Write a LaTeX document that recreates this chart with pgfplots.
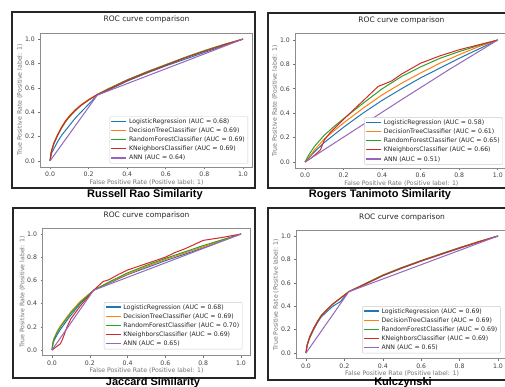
\documentclass[border=0pt]{standalone}
\usepackage{pgfplots}
\pgfplotsset{compat=1.18}
\usepackage{fontspec}
\setmainfont{DejaVu Sans}
\newfontfamily\capfont{Liberation Sans}
\definecolor{tabblue}{HTML}{1F77B4}
\definecolor{taborange}{HTML}{FF7F0E}
\definecolor{tabgreen}{HTML}{2CA02C}
\definecolor{tabred}{HTML}{D62728}
\definecolor{tabpurple}{HTML}{9467BD}
\pgfplotsset{
 rocstyle/.style={
  scale only axis,
  xmin=-0.05,xmax=1.05,ymin=-0.05,ymax=1.05,
  xtick={0,0.2,0.4,0.6,0.8,1}, ytick={0,0.2,0.4,0.6,0.8,1},
  /pgf/number format/.cd, fixed, fixed zerofill, precision=1, assume math mode=true, /pgfplots/.cd,
  tick pos=left, tick align=outside, major tick length=2pt,
  tick style={black!55, line width=0.6pt},
  axis line style={black!45, line width=0.8pt},
  ticklabel style={font=\fontsize{6.2}{7}\selectfont, text=black!75},
  xticklabel style={yshift=0.5pt},
  label style={font=\fontsize{6.2}{7}\selectfont, text=black!55},
  every axis title shift=0pt,
  title style={font=\fontsize{7.5}{9}\selectfont, text=black!85, at={(axis description cs:0.5,1.1)}, anchor=center},
  xlabel style={at={(axis description cs:0.5,-0.115)}, anchor=center},
  ylabel style={at={(axis description cs:-0.097,0.5)}, anchor=center},
  title={ROC curve comparison},
  xlabel={False Positive Rate (Positive label: 1)},
  ylabel={True Positive Rate (Positive label: 1)},
  legend cell align=left,
  legend image code/.code={\draw[#1, line width=1.2pt] (0pt,0.3pt) -- (15pt,0.3pt);},
  legend style={at={(1,0)}, anchor=south east, xshift=-4.5pt, yshift=3.5pt,
    draw=black!20, rounded corners=1pt, fill=white,
    font=\fontsize{6.2}{7}\selectfont, inner sep=1pt, row sep=1.2pt,
    nodes={inner xsep=2pt, inner ysep=1pt, text height=4.7pt, text depth=1.3pt, text=black!85}},
  every axis plot/.append style={line width=1pt, no markers},
 }
}
\begin{document}
\begin{tikzpicture}
\clip (0pt,0pt) rectangle (505pt,-387pt);
\fill[white] (0pt,0pt) rectangle (505pt,-387pt);
% outer frames
\draw[line width=1.3pt, black!85] (12pt,-12pt) rectangle (255pt,-188pt);
\draw[line width=1.3pt, black!85] (268pt,-13pt) rectangle (520pt,-188pt);
\draw[line width=1.3pt, black!85] (13pt,-208pt) rectangle (255pt,-378pt);
\draw[line width=1.3pt, black!85] (268pt,-208pt) rectangle (520pt,-380pt);

% ---------- Russell Rao ----------
\begin{axis}[rocstyle, at={(40.4pt,-167pt)}, anchor=south west, width=212.2pt, height=134pt]
\addplot[tabblue] coordinates {(0,0)(0.005,0.04)(0.01,0.07)(0.02,0.10)(0.04,0.16)(0.06,0.21)(0.08,0.25)(0.1,0.29)(0.13,0.35)(0.16,0.40)(0.2,0.465)(0.245,0.54)(0.3,0.58)(0.4,0.655)(0.5,0.72)(0.6,0.78)(0.7,0.835)(0.8,0.89)(0.9,0.945)(1,1)};
\addlegendentry{LogisticRegression (AUC = 0.68)}
\addplot[taborange] coordinates {(0,0)(0.005,0.07)(0.01,0.10)(0.02,0.15)(0.04,0.22)(0.06,0.28)(0.08,0.33)(0.1,0.37)(0.13,0.42)(0.16,0.46)(0.2,0.505)(0.245,0.545)(0.3,0.59)(0.4,0.665)(0.5,0.73)(0.6,0.79)(0.7,0.85)(0.8,0.905)(0.9,0.955)(1,1)};
\addlegendentry{DecisionTreeClassifier (AUC = 0.69)}
\addplot[tabgreen] coordinates {(0,0)(0.005,0.06)(0.01,0.09)(0.02,0.14)(0.04,0.21)(0.06,0.27)(0.08,0.32)(0.1,0.36)(0.13,0.41)(0.16,0.455)(0.2,0.50)(0.245,0.545)(0.3,0.59)(0.4,0.665)(0.5,0.73)(0.6,0.79)(0.7,0.85)(0.8,0.905)(0.9,0.955)(1,1)};
\addlegendentry{RandomForestClassifier (AUC = 0.69)}
\addplot[tabred] coordinates {(0,0)(0.005,0.065)(0.01,0.095)(0.02,0.145)(0.04,0.215)(0.06,0.275)(0.08,0.325)(0.1,0.365)(0.13,0.415)(0.16,0.455)(0.2,0.5)(0.245,0.545)(0.3,0.585)(0.4,0.66)(0.5,0.725)(0.6,0.785)(0.7,0.845)(0.8,0.9)(0.9,0.952)(1,1)};
\addlegendentry{KNeighborsClassifier (AUC = 0.69)}
\addplot[tabpurple] coordinates {(0,0)(0.245,0.54)(1,1)};
\addlegendentry{ANN (AUC = 0.64)}
\end{axis}

% ---------- Rogers Tanimoto ----------
\begin{axis}[rocstyle, at={(295.4pt,-168.1pt)}, anchor=south west, width=212pt, height=134.2pt]
\addplot[tabblue] coordinates {(0,0)(0.05,0.085)(0.1,0.16)(0.2,0.285)(0.3,0.40)(0.4,0.505)(0.5,0.60)(0.6,0.69)(0.7,0.77)(0.8,0.85)(0.9,0.925)(1,1)};
\addlegendentry{LogisticRegression (AUC = 0.58)}
\addplot[taborange] coordinates {(0,0)(0.05,0.10)(0.1,0.19)(0.2,0.32)(0.3,0.44)(0.4,0.55)(0.5,0.645)(0.6,0.73)(0.7,0.81)(0.8,0.88)(0.9,0.945)(1,1)};
\addlegendentry{DecisionTreeClassifier (AUC = 0.61)}
\addplot[tabgreen] coordinates {(0,0)(0.02,0.06)(0.05,0.13)(0.1,0.22)(0.15,0.29)(0.2,0.355)(0.3,0.48)(0.4,0.60)(0.5,0.70)(0.6,0.78)(0.7,0.85)(0.8,0.905)(0.9,0.955)(1,1)};
\addlegendentry{RandomForestClassifier (AUC = 0.65)}
\addplot[tabred] coordinates {(0,0)(0.03,0.03)(0.06,0.07)(0.08,0.10)(0.1,0.18)(0.13,0.24)(0.2,0.35)(0.3,0.50)(0.38,0.62)(0.42,0.645)(0.45,0.665)(0.5,0.72)(0.6,0.81)(0.7,0.87)(0.8,0.92)(0.9,0.96)(1,1)};
\addlegendentry{KNeighborsClassifier (AUC = 0.66)}
\addplot[tabpurple] coordinates {(0,0)(0.25,0.255)(0.5,0.51)(0.75,0.76)(1,1)};
\addlegendentry{ANN (AUC = 0.51)}
\end{axis}

% ---------- Jaccard ----------
\begin{axis}[rocstyle, at={(42.55pt,-355.8pt)}, anchor=south west, width=207.9pt, height=127.6pt, legend style={xshift=-3.5pt, yshift=3pt}]
\addplot[tabblue] coordinates {(0,0)(0.005,0.05)(0.01,0.08)(0.03,0.14)(0.05,0.19)(0.09,0.28)(0.1,0.30)(0.15,0.40)(0.22,0.515)(0.3,0.575)(0.4,0.65)(0.5,0.71)(0.6,0.77)(0.7,0.825)(0.8,0.88)(0.9,0.94)(1,1)};
\addlegendentry{LogisticRegression (AUC = 0.68)}
\addplot[taborange] coordinates {(0,0)(0.005,0.07)(0.01,0.10)(0.03,0.17)(0.05,0.22)(0.1,0.33)(0.15,0.42)(0.22,0.515)(0.3,0.58)(0.4,0.655)(0.5,0.72)(0.6,0.78)(0.7,0.835)(0.8,0.89)(0.9,0.945)(1,1)};
\addlegendentry{DecisionTreeClassifier (AUC = 0.69)}
\addplot[tabgreen] coordinates {(0,0)(0.005,0.06)(0.01,0.09)(0.03,0.16)(0.05,0.21)(0.1,0.32)(0.15,0.41)(0.22,0.515)(0.3,0.585)(0.4,0.665)(0.5,0.73)(0.6,0.79)(0.7,0.845)(0.8,0.9)(0.9,0.95)(1,1)};
\addlegendentry{RandomForestClassifier (AUC = 0.70)}
\addplot[tabred] coordinates {(0,0)(0.045,0.055)(0.055,0.09)(0.08,0.20)(0.1,0.27)(0.15,0.38)(0.22,0.515)(0.27,0.59)(0.3,0.605)(0.35,0.65)(0.4,0.69)(0.5,0.745)(0.6,0.80)(0.65,0.84)(0.7,0.87)(0.8,0.945)(0.9,0.97)(1,1)};
\addlegendentry{KNeighborsClassifier (AUC = 0.69)}
\addplot[tabpurple] coordinates {(0,0)(0.22,0.515)(1,1)};
\addlegendentry{ANN (AUC = 0.65)}
\end{axis}

% ---------- Kulczynski ----------
\begin{axis}[rocstyle, at={(296.4pt,-358.85pt)}, anchor=south west, width=211.2pt, height=128.7pt, legend style={xshift=-2.5pt, yshift=2pt}]
\addplot[tabblue] coordinates {(0,0)(0.005,0.06)(0.01,0.09)(0.02,0.13)(0.04,0.20)(0.06,0.26)(0.08,0.31)(0.1,0.34)(0.14,0.40)(0.18,0.44)(0.223,0.524)(0.3,0.58)(0.4,0.66)(0.5,0.725)(0.6,0.785)(0.7,0.84)(0.8,0.895)(0.9,0.948)(1,1)};
\addlegendentry{LogisticRegression (AUC = 0.69)}
\addplot[taborange] coordinates {(0,0)(0.005,0.06)(0.01,0.09)(0.02,0.14)(0.04,0.21)(0.06,0.27)(0.08,0.32)(0.1,0.355)(0.14,0.42)(0.18,0.47)(0.223,0.524)(0.3,0.585)(0.4,0.665)(0.5,0.73)(0.6,0.79)(0.7,0.845)(0.8,0.9)(0.9,0.952)(1,1)};
\addlegendentry{DecisionTreeClassifier (AUC = 0.69)}
\addplot[tabgreen] coordinates {(0,0)(0.005,0.062)(0.01,0.092)(0.02,0.142)(0.04,0.212)(0.06,0.272)(0.08,0.322)(0.1,0.357)(0.14,0.42)(0.18,0.47)(0.223,0.524)(0.3,0.586)(0.4,0.666)(0.5,0.731)(0.6,0.79)(0.7,0.846)(0.8,0.9)(0.9,0.952)(1,1)};
\addlegendentry{RandomForestClassifier (AUC = 0.69)}
\addplot[tabred] coordinates {(0,0)(0.005,0.058)(0.01,0.088)(0.02,0.138)(0.04,0.208)(0.06,0.268)(0.08,0.318)(0.1,0.353)(0.14,0.418)(0.18,0.468)(0.223,0.524)(0.3,0.583)(0.4,0.662)(0.5,0.727)(0.6,0.787)(0.7,0.843)(0.8,0.898)(0.9,0.95)(1,1)};
\addlegendentry{KNeighborsClassifier (AUC = 0.69)}
\addplot[tabpurple] coordinates {(0,0)(0.223,0.524)(1,1)};
\addlegendentry{ANN (AUC = 0.65)}
\end{axis}

% captions
\node[font=\capfont\bfseries\fontsize{11}{13}\selectfont] at (145pt,-194.5pt) {Russell Rao Similarity};
\node[font=\capfont\bfseries\fontsize{11}{13}\selectfont] at (380pt,-195pt) {Rogers Tanimoto Similarity};
\node[font=\capfont\bfseries\fontsize{11}{13}\selectfont] at (153pt,-382.5pt) {Jaccard Similarity};
\node[font=\capfont\bfseries\fontsize{11}{13}\selectfont] at (403pt,-383pt) {Kulczynski};
\end{tikzpicture}
\end{document}
